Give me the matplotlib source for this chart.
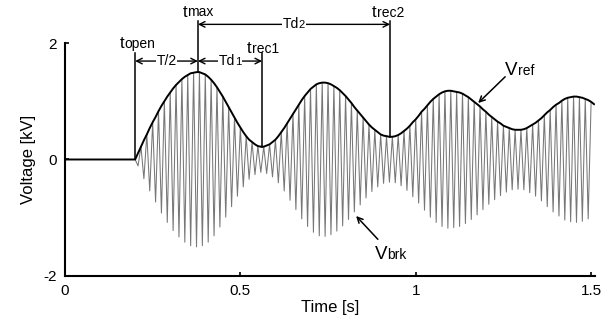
import numpy as np
import matplotlib
matplotlib.use("Agg")
import matplotlib.pyplot as plt

plt.rcParams['font.family'] = ['Liberation Sans', 'DejaVu Sans']
plt.rcParams['axes.unicode_minus'] = False

# line frequency of the breaker voltage and switching instants [s]
f_line = 60.0
t_open = 0.2
t_max = 0.379
t_rec1 = 0.562
t_rec2 = 0.927

# envelope value (kV) at the instants above
v_max = 1.50
v_rec1 = 0.22
v_rec2 = 0.39

# peak magnitude of each half cycle after t_open (kV)
env_peaks = [
    0.00, 0.11, 0.22, 0.33, 0.43, 0.54, 0.64, 0.73, 0.83, 0.92, 1.00, 1.08,
    1.15, 1.22, 1.28, 1.33, 1.38, 1.42, 1.45, 1.48, 1.49, 1.50,
    1.50, 1.48, 1.46, 1.42, 1.37, 1.31, 1.24, 1.16, 1.08, 0.99, 0.90, 0.81,
    0.72, 0.63, 0.55, 0.47, 0.40, 0.34, 0.30, 0.26, 0.23, 0.22,
    0.22, 0.24, 0.26, 0.30, 0.34, 0.40, 0.47, 0.54, 0.62, 0.70, 0.78, 0.86,
    0.94, 1.02, 1.09, 1.15, 1.21, 1.25, 1.29, 1.31, 1.32,
    1.32, 1.31, 1.29, 1.26, 1.23, 1.19, 1.14, 1.09, 1.03, 0.97, 0.90, 0.84,
    0.78, 0.72, 0.66, 0.60, 0.55, 0.51, 0.47, 0.43, 0.41, 0.40, 0.39,
    0.39, 0.40, 0.42, 0.45, 0.49, 0.53, 0.58, 0.64, 0.69, 0.75, 0.82, 0.87,
    0.93, 0.99, 1.04, 1.08, 1.12, 1.15, 1.17, 1.18,
    1.18, 1.17, 1.16, 1.15, 1.13, 1.10, 1.07, 1.03, 0.99, 0.95, 0.91, 0.86,
    0.82, 0.77, 0.73, 0.69, 0.65, 0.62, 0.58, 0.56, 0.54, 0.52, 0.51, 0.51,
    0.51, 0.52, 0.54, 0.57, 0.60, 0.63, 0.67, 0.71, 0.76, 0.81, 0.85, 0.90,
    0.94, 0.97, 1.01, 1.04, 1.06, 1.07, 1.08,
    1.08, 1.07, 1.06, 1.04, 1.02, 0.99, 0.95,
]
t_end_brk = 1.5

x_ticks = [0, 0.5, 1, 1.5]
x_ticklabels = ['0', '0.5', '1', '1.5']
y_ticks = [-2, 0, 2]
y_ticklabels = ['-2', '0', '2']

DESC = 0.225  # share of a text box that lies below the baseline


def split_label(ax, x, y, big, small, big_size, small_size):
    """Large first part with a smaller tail on the same baseline."""
    head = ax.text(x, y, big, fontsize=big_size, ha='left', va='baseline',
                   clip_on=False)
    ax.annotate(small, xy=(1, DESC), xycoords=head, fontsize=small_size,
                ha='left', va='baseline', annotation_clip=False)


def span_arrow(ax, x0, x1, y, big, small=''):
    ax.annotate('', xy=(x0, y), xytext=(x1, y), annotation_clip=False,
                arrowprops=dict(arrowstyle='<->', lw=1.0, color='black',
                                shrinkA=0, shrinkB=0, mutation_scale=10))
    head = ax.text((x0 + x1) / 2 - 0.01 * len(small), y, big, fontsize=10,
                   ha='center', va='center', clip_on=False, zorder=6,
                   bbox=dict(fc='white', ec='none', pad=0.6))
    if small:
        ax.annotate(small, xy=(1, DESC), xycoords=head, fontsize=8,
                    ha='left', va='baseline', annotation_clip=False, zorder=5,
                    bbox=dict(fc='white', ec='none', pad=0.6))


def main():
    half = 1.0 / (2 * f_line)
    peaks = np.array(env_peaks)
    t_pk = t_open + half * np.arange(len(peaks))

    # breaker voltage: alternating half-cycle peaks up to t_end_brk
    n_brk = int(round((t_end_brk - t_open) / half)) + 1
    signs = (-1.0) ** np.arange(n_brk)
    t_brk = t_pk[:n_brk]
    v_brk = peaks[:n_brk] * signs

    # reference envelope, zero before opening
    t_ref = np.concatenate([[0.0], t_pk])
    v_ref = np.concatenate([[0.0], peaks])

    fig = plt.figure(figsize=(6.13, 3.27), dpi=100)
    ax = fig.add_axes([0.106, 0.156, 0.864, 0.7125])

    ax.plot(t_brk, v_brk, color='#777777', lw=0.75, zorder=2)
    ax.plot(t_ref, v_ref, color='black', lw=1.4, zorder=3)

    # event markers
    lw_ev = 1.1
    ax.plot([t_open, t_open], [0, 1.83], color='black', lw=lw_ev, clip_on=False)
    ax.plot([t_max, t_max], [v_max, 2.38], color='black', lw=lw_ev, clip_on=False)
    ax.plot([t_rec1, t_rec1], [v_rec1, 1.83], color='black', lw=lw_ev, clip_on=False)
    ax.plot([t_rec2, t_rec2], [v_rec2, 2.38], color='black', lw=lw_ev, clip_on=False)

    span_arrow(ax, t_open, t_max, 1.69, 'T/2')
    span_arrow(ax, t_max, t_rec1, 1.69, 'Td', '1')
    span_arrow(ax, t_max, t_rec2, 2.32, 'Td', '2')

    split_label(ax, 0.157, 1.91, 't', 'open', 12, 10)
    split_label(ax, 0.336, 2.45, 't', 'max', 12, 10)
    split_label(ax, 0.519, 1.83, 't', 'rec1', 12, 10)
    split_label(ax, 0.875, 2.44, 't', 'rec2', 12, 10)
    split_label(ax, 1.255, 1.45, 'V', 'ref', 13.5, 10)
    split_label(ax, 0.884, -1.71, 'V', 'brk', 13.5, 10)

    ax.annotate('', xy=(1.178, 0.97), xytext=(1.255, 1.42),
                arrowprops=dict(arrowstyle='->', lw=1.1, color='black',
                                shrinkA=0, shrinkB=0, mutation_scale=10))
    ax.annotate('', xy=(0.830, -0.97), xytext=(0.892, -1.37),
                arrowprops=dict(arrowstyle='->', lw=1.1, color='black',
                                shrinkA=0, shrinkB=0, mutation_scale=10))

    ax.set_xlim(0, 1.51)
    ax.set_ylim(-2, 2)
    ax.set_xticks(x_ticks)
    ax.set_xticklabels(x_ticklabels)
    ax.set_yticks(y_ticks)
    ax.set_yticklabels(y_ticklabels)
    ax.tick_params(direction='in', length=3, width=1.2, labelsize=11, pad=6)
    ax.spines['top'].set_visible(False)
    ax.spines['right'].set_visible(False)
    for side in ('left', 'bottom'):
        ax.spines[side].set_linewidth(1.5)

    ax.set_xlabel('Time [s]', fontsize=12, labelpad=1)
    ax.set_ylabel('Voltage [kV]', fontsize=12, labelpad=5)

    fig.savefig('out.png', dpi=100, facecolor='white')


if __name__ == '__main__':
    main()
